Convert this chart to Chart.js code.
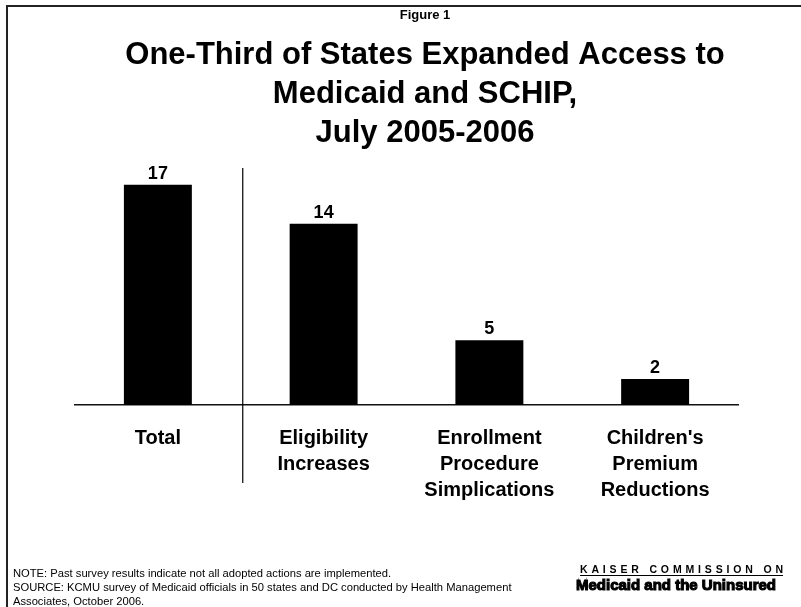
<!DOCTYPE html>
<html><head><meta charset="utf-8">
<script src="https://cdn.jsdelivr.net/npm/chart.js@4/dist/chart.umd.min.js"></script>
<style>html,body{margin:0;padding:0;background:#fff;overflow:hidden}#wrap{width:801px;height:607px;position:relative}</style>
</head><body><div id="wrap"><canvas id="c" width="801" height="607"></canvas></div>
<script>
const categories = [["Total"], ["Eligibility", "Increases"], ["Enrollment", "Procedure", "Simplications"], ["Children's", "Premium", "Reductions"]];
const values = [17, 14, 5, 2];
const figureLabel = "Figure 1";
const titleLines = ["One-Third of States Expanded Access to", "Medicaid and SCHIP,", "July 2005-2006"];
const noteLines = [
  "NOTE: Past survey results indicate not all adopted actions are implemented.",
  "SOURCE: KCMU survey of Medicaid officials in 50 states and DC conducted by Health Management",
  "Associates, October 2006."
];
const logoLines = ["KAISER COMMISSION ON", "Medicaid and the Uninsured"];

const FAM = '"Liberation Sans", Arial, Helvetica, sans-serif';

const decor = {
  id: 'decor',
  beforeDraw(chart) {
    const ctx = chart.ctx;
    ctx.save();
    ctx.fillStyle = '#fff';
    ctx.fillRect(0, 0, chart.width, chart.height);
    ctx.restore();
  },
  afterDraw(chart) {
    const { ctx, chartArea } = chart;
    const x = chart.scales.x;
    ctx.save();
    // frame
    ctx.strokeStyle = '#222';
    ctx.lineWidth = 2;
    ctx.beginPath();
    ctx.moveTo(7, chart.height + 2);
    ctx.lineTo(7, 6);
    ctx.lineTo(chart.width + 2, 6);
    ctx.stroke();

    // titles
    const cx = 425;
    ctx.fillStyle = '#000';
    ctx.textAlign = 'center';
    ctx.textBaseline = 'alphabetic';
    ctx.font = 'bold 13px ' + FAM;
    ctx.fillText(figureLabel, cx, 19);
    ctx.font = 'bold 31px ' + FAM;
    titleLines.forEach((t, i) => ctx.fillText(t, cx, 64 + i * 39));

    // separator between Total and the rest
    const sx = (x.getPixelForValue(0) + x.getPixelForValue(1)) / 2 + 2;
    ctx.strokeStyle = '#000';
    ctx.lineWidth = 1.2;
    ctx.beginPath();
    ctx.moveTo(sx, chartArea.top + 22);
    ctx.lineTo(sx, chartArea.bottom + 78);
    ctx.stroke();

    // value labels
    const meta = chart.getDatasetMeta(0);
    ctx.font = 'bold 18px ' + FAM;
    meta.data.forEach((bar, i) => {
      ctx.fillText(String(values[i]), bar.x, bar.y - 6);
    });

    // notes
    ctx.textAlign = 'left';
    ctx.font = '11.2px ' + FAM;
    noteLines.forEach((t, i) => ctx.fillText(t, 13, 577 + i * 14));

    // logo
    ctx.font = 'bold 10.5px ' + FAM;
    const l1 = logoLines[0];
    ctx.letterSpacing = '0px';
    const natural = ctx.measureText(l1).width;
    const target = 203;
    const ls = (target - natural) / (l1.length - 1);
    ctx.letterSpacing = ls + 'px';
    ctx.fillText(l1, 580, 573);
    ctx.letterSpacing = '0px';
    ctx.lineWidth = 1.2;
    ctx.beginPath();
    ctx.moveTo(580, 575.5);
    ctx.lineTo(783, 575.5);
    ctx.stroke();
    ctx.font = 'bold 15px ' + FAM;
    ctx.lineWidth = 1.1;
    ctx.strokeStyle = '#000';
    ctx.strokeText(logoLines[1], 576, 590, 200);
    ctx.fillText(logoLines[1], 576, 590, 200);
    ctx.restore();
  }
};

new Chart(document.getElementById('c'), {
  type: 'bar',
  data: {
    labels: categories,
    datasets: [{
      data: values,
      backgroundColor: '#000',
      borderWidth: 0,
      barPercentage: 0.41,
      categoryPercentage: 1
    }]
  },
  options: {
    responsive: false,
    animation: false,
    devicePixelRatio: 1,
    layout: { padding: { left: 75, right: 63, top: 146, bottom: 102 } },
    plugins: {
      legend: { display: false },
      tooltip: { enabled: false },
      title: { display: false }
    },
    scales: {
      x: {
        grid: { display: false, drawTicks: false },
        border: { display: true, color: '#111', width: 1.5 },
        ticks: {
          color: '#000',
          font: { family: FAM, size: 20, weight: 'bold', lineHeight: 1.28 },
          padding: 21,
          maxRotation: 0,
          autoSkip: false
        },
        afterFit(scale) { scale.height = 100; }
      },
      y: { display: false, min: 0, max: 20 }
    }
  },
  plugins: [decor]
});
</script>
</body></html>
